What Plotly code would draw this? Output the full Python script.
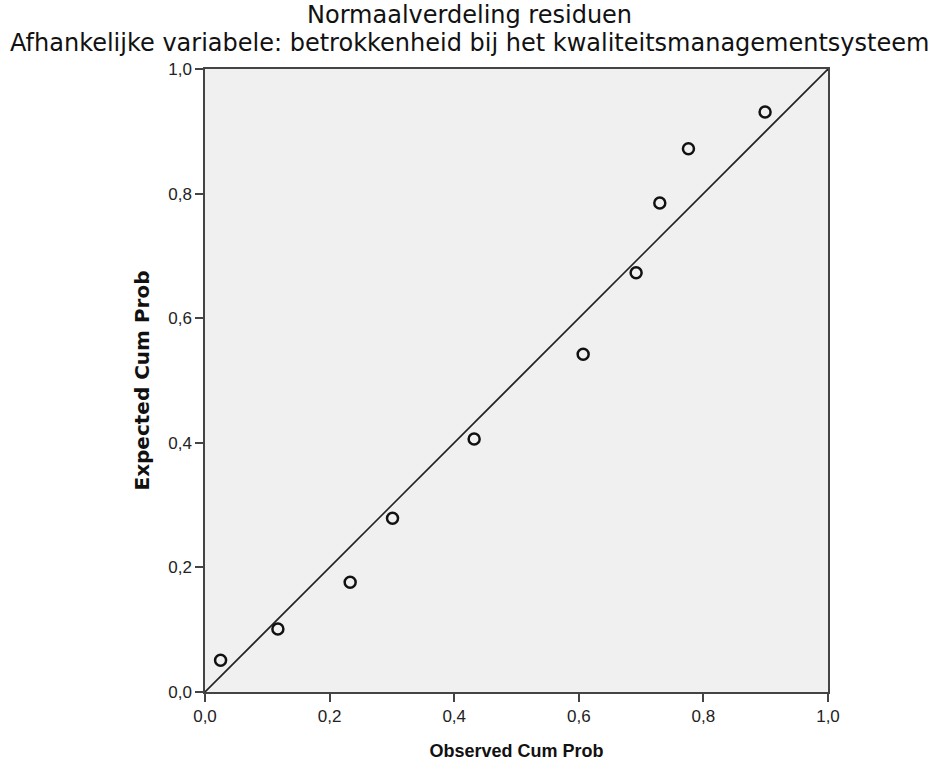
import plotly.graph_objects as go

observed = [0.025, 0.117, 0.233, 0.301, 0.432, 0.607, 0.692, 0.730, 0.776, 0.899]
expected = [0.051, 0.101, 0.176, 0.279, 0.406, 0.542, 0.673, 0.785, 0.872, 0.931]
diag = [0.0, 1.0]
tick_vals = [0.0, 0.2, 0.4, 0.6, 0.8, 1.0]
title_lines = ["Normaalverdeling residuen",
               "Afhankelijke variabele: betrokkenheid bij het kwaliteitsmanagementsysteem"]

fig = go.Figure()
fig.add_trace(go.Scatter(x=diag, y=diag, mode="lines",
                         line=dict(color="#222222", width=1.6), hoverinfo="skip"))
fig.add_trace(go.Scatter(x=observed, y=expected, mode="markers",
                         marker=dict(symbol="circle-open", size=11, color="#111111",
                                     line=dict(color="#111111", width=2.5))))

lib = "Liberation Sans, Arial, sans-serif"
dv = "DejaVu Sans, sans-serif"
axis_common = dict(range=[0, 1], tickvals=tick_vals, tickformat=".1f",
                   showgrid=False, zeroline=False, showline=True, mirror=True,
                   linecolor="#444444", linewidth=1.5, ticks="outside",
                   ticklen=8, tickcolor="#444444", tickwidth=1.5, automargin=False,
                   tickfont=dict(family=lib, size=17, color="#222222"))

fig.update_layout(
    width=938, height=764,
    separators=",.",
    showlegend=False,
    paper_bgcolor="white",
    plot_bgcolor="#f0f0f0",
    margin=dict(l=205, r=110, t=69, b=72),
    xaxis=dict(**axis_common,
               title=dict(text="<b>Observed Cum Prob</b>", standoff=19,
                          font=dict(family=lib, size=18, color="#111111"))),
    yaxis=dict(**axis_common,
               title=dict(text="<b>Expected Cum Prob</b>", standoff=13,
                          font=dict(family=dv, size=20, color="#111111"))),
)

title_y = [1.0859, 1.0425]
for txt, yy in zip(title_lines, title_y):
    fig.add_annotation(text=txt, xref="paper", yref="paper", x=0.4238, y=yy,
                       xanchor="center", yanchor="middle", showarrow=False,
                       font=dict(family=dv, size=24, color="#111111"))

fig.write_html("out.html")
